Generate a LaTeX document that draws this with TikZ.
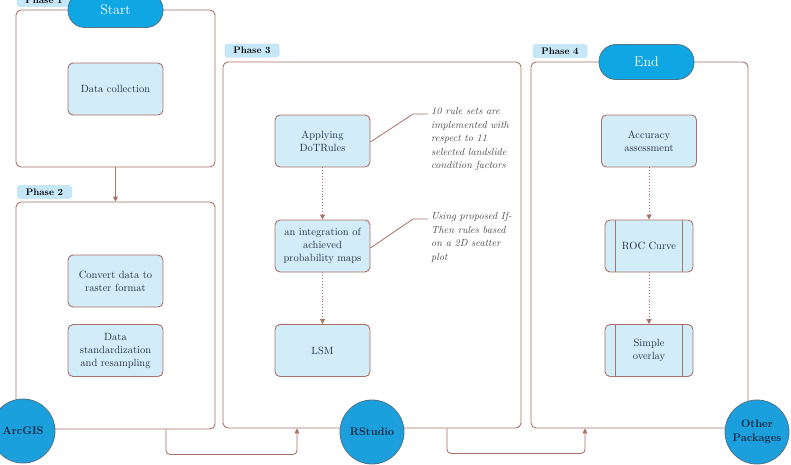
\documentclass[tikz,border=0pt]{standalone}
\usetikzlibrary{arrows.meta}
\definecolor{brd}{HTML}{A8716A}
\definecolor{lblue}{HTML}{D2ECF8}
\definecolor{cblue}{HTML}{1CA0DD}
\definecolor{cbord}{HTML}{4F7387}
\definecolor{pblue}{HTML}{0FA6E4}
\definecolor{tabblue}{HTML}{C6E7F8}
\definecolor{txt}{HTML}{263040}
\definecolor{ctxt}{HTML}{16223A}
\definecolor{note}{HTML}{4A4A4A}
\begin{document}
\begin{tikzpicture}[x=1pt,y=-1pt,
  phase/.style={draw=brd, line width=0.9pt, rounded corners=5pt, inner sep=0pt},
  proc/.style={draw=brd, line width=0.9pt, fill=lblue, rounded corners=5pt,
    minimum width=95pt, minimum height=52pt, align=center, inner sep=2pt,
    font=\fontsize{10.5}{13}\selectfont, text=txt},
  tabbox/.style={fill=tabblue, rounded corners=3pt, minimum width=55pt, minimum height=14pt,
    inner sep=0pt, font=\bfseries\fontsize{9.5}{10}\selectfont, text=black},
  pill/.style={draw=cbord, line width=0.8pt, fill=pblue, rounded corners=17pt,
    minimum width=95pt, minimum height=35pt, inner sep=0pt,
    font=\fontsize{14}{15}\selectfont, text=white},
  tool/.style={circle, draw=cbord, line width=0.8pt, fill=cblue, minimum size=64pt,
    inner sep=0pt, align=center, font=\bfseries\fontsize{11}{13.5}\selectfont, text=ctxt},
  conn/.style={draw=brd, line width=0.9pt, -{Triangle[length=5pt,width=5pt]}},
  dotarr/.style={draw=brd, line width=0.9pt, dotted, -{Triangle[length=5pt,width=5pt]}},
  callout/.style={draw=brd, line width=0.8pt},
  notetext/.style={align=left, anchor=north west, inner sep=0pt,
    font=\itshape\fontsize{10.2}{13.5}\selectfont, text=note}
]
\useasboundingbox (0,0) rectangle (791,464);

% phase containers
\node[phase, minimum width=199pt, minimum height=157pt] (p1) at (115.5,88.5) {};
\node[phase, minimum width=199pt, minimum height=227pt] (p2) at (115.5,315.5) {};
\node[phase, minimum width=298pt, minimum height=366pt] (p3) at (372,245) {};
\node[phase, minimum width=217pt, minimum height=366pt] (p4) at (639.5,245) {};

% tabs
\node[tabbox] (t1) at (44,0) {Phase 1};
\node[tabbox] (t2) at (44.5,192) {Phase 2};
\node[tabbox] (t3) at (252,50.5) {Phase 3};
\node[tabbox] (t4) at (560,51) {Phase 4};

% start / end
\node[pill] (start) at (115.5,10) {Start};
\node[pill] (end) at (646.5,62) {End};

% phase 1 & 2 processes
\node[proc] (dc) at (115.5,89) {Data collection};
\node[proc] (cv) at (115.5,281) {Convert data to\\raster format};
\node[proc] (ds) at (115.5,350.5) {Data\\standardization\\and resampling};

% phase 3 processes
\node[proc] (ap) at (322.5,141) {Applying\\DoTRules};
\node[proc] (ig) at (322.5,246) {an integration of\\achieved\\probability maps};
\node[proc] (lsm) at (322.5,350.5) {LSM};

% phase 4 processes
\node[proc] (acc) at (649,141) {Accuracy\\assessment};
\node[proc, minimum width=88pt] (roc) at (649,246) {ROC Curve};
\node[proc, minimum width=88pt] (so) at (649,350.5) {Simple\\overlay};
\foreach \n in {roc,so}{
  \draw[brd, line width=0.9pt] ([xshift=11pt]\n.north west) -- ([xshift=11pt]\n.south west);
  \draw[brd, line width=0.9pt] ([xshift=-11pt]\n.north east) -- ([xshift=-11pt]\n.south east);
}

% connectors
\draw[conn] (p1.south) -- (p2.north);
\draw[conn, rounded corners=4pt] ([xshift=50.5pt]p2.south) -- ++(0,25) -| ([xshift=-75pt]p3.south);
\draw[conn, rounded corners=4pt] ([xshift=75pt]p3.south) -- ++(0,25) -| ([xshift=-54.5pt]p4.south);

\draw[dotarr] (ap.south) -- (ig.north);
\draw[dotarr] (ig.south) -- (lsm.north);
\draw[dotarr] (acc.south) -- (roc.north);
\draw[dotarr] (roc.south) -- (so.north);

% callouts
\coordinate (c1a) at (413,114);
\coordinate (c1b) at (428,114);
\draw[callout] ([yshift=-1pt]ap.east) -- (c1a) -- (c1b);
\node[notetext] (n1) at (431,107.5) {10 rule sets are\\implemented with\\respect to 11\\selected landslide\\condition factors};
\coordinate (c2a) at (413,219);
\coordinate (c2b) at (428,219);
\draw[callout] ([yshift=-2pt]ig.east) -- (c2a) -- (c2b);
\node[notetext] (n2) at (431,212.5) {Using proposed If-\\Then rules based\\on a 2D scatter\\plot};

% tools
\node[tool] (arc) at (23,431) {ArcGIS};
\node[tool] (rs) at (372,432) {RStudio};
\node[tool] (op) at (757,432) {Other\\Packages};
\end{tikzpicture}
\end{document}
